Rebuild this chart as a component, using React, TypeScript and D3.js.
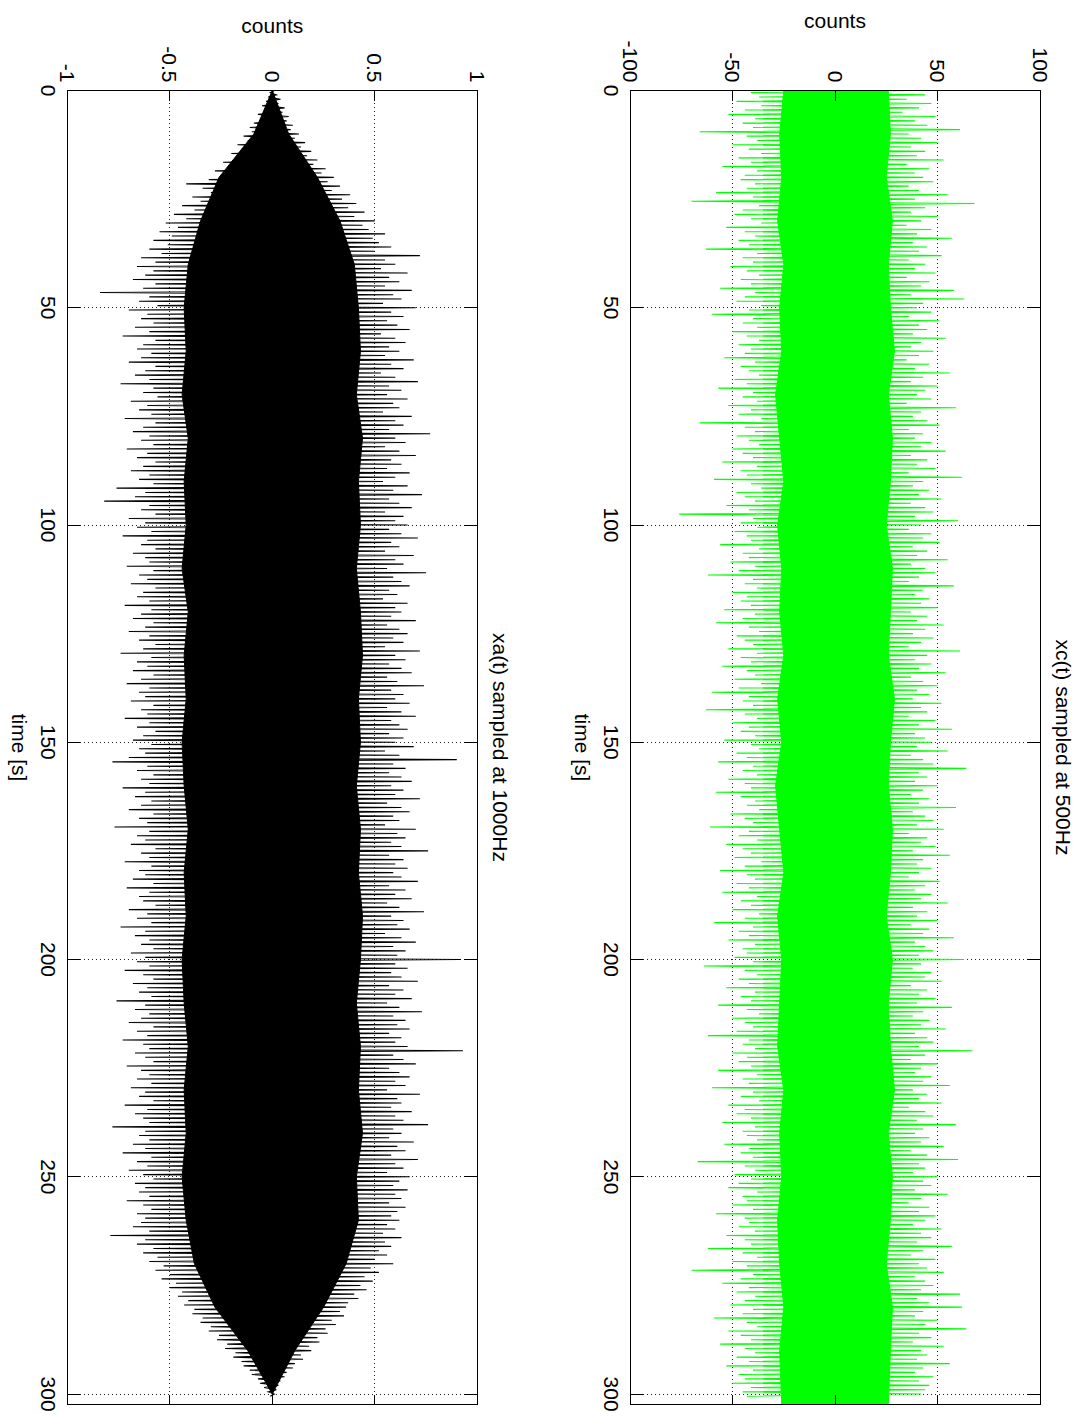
import React from 'react';
import * as d3 from 'd3';

// ---------- data ----------
const timeTicks = [0, 50, 100, 150, 200, 250, 300];
const xcTicks = [-100, -50, 0, 50, 100];
const xcTickLabels = ['-100', '-50', '0', '50', '100'];
const xaTicks = [-1, -0.5, 0, 0.5, 1];
const xaTickLabels = ['-1', '-0.5', '0', '0.5', '1'];

// peak values of xc(t), one pair per second (upper at t, lower at t+0.5)
const xcUpper = [
  38, 44, 35, 47, 41, 33, 49, 39, 45, 61, 36, 42, 50, 37, 44, 40, 53, 35, 46, 39,
  43, 48, 36, 41, 55, 39, 68, 44, 37, 50, 42, 35, 47, 40, 57, 38, 45, 41, 52, 36,
  44, 39, 49, 35, 46, 42, 58, 37, 63, 43, 40, 47, 36, 51, 41, 45, 38, 54, 42, 37,
  48, 41, 35, 46, 39, 56, 43, 37, 50, 44, 40, 47, 35, 59, 42, 38, 45, 51, 36, 43,
  39, 47, 42, 54, 37, 45, 40, 49, 36, 62, 43, 38, 46, 41, 52, 37, 44, 48, 39, 60,
  42, 36, 47, 43, 51, 38, 45, 40, 55, 37, 44, 49, 41, 36, 58, 43, 39, 46, 42, 50,
  37, 45, 40, 53, 44, 38, 48, 42, 36, 61, 45, 39, 47, 41, 54, 37, 43, 50, 40, 46,
  38, 52, 42, 45, 36, 49, 41, 57, 39, 44, 47, 40, 55, 37, 43, 48, 64, 41, 45, 39,
  50, 43, 37, 46, 41, 59, 38, 44, 48, 40, 53, 36, 45, 42, 49, 38, 56, 43, 40, 47,
  41, 36, 51, 44, 39, 47, 42, 55, 38, 45, 40, 50, 37, 46, 43, 58, 39, 44, 48, 41,
  63, 42, 38, 47, 44, 52, 37, 45, 41, 49, 40, 57, 43, 38, 46, 42, 54, 39, 45, 48,
  41, 67, 44, 37, 50, 42, 39, 47, 43, 56, 38, 45, 41, 52, 36, 44, 48, 40, 59, 43,
  39, 46, 42, 53, 37, 45, 60, 41, 44, 38, 50, 43, 47, 39, 55, 42, 36, 46, 41, 49,
  44, 38, 52, 42, 47, 40, 57, 43, 37, 49, 41, 45, 53, 39, 44, 48, 42, 61, 40, 46,
  62, 43, 39, 50, 44, 64, 41, 47, 38, 53, 42, 45, 40, 56, 43, 39, 48, 41, 46, 44,
  42,
];
const xcLower = [
  -41, -37, -48, -36, -44, -52, -39, -45, -40, -66, -43, -38, -50, -42, -36, -47, -41, -55, -38, -44,
  -46, -39, -43, -58, -40, -70, -37, -45, -49, -41, -36, -53, -44, -39, -47, -42, -63, -38, -45, -40,
  -51, -43, -37, -46, -41, -56, -39, -44, -48, -36, -42, -60, -40, -45, -38, -50, -43, -37, -47, -41,
  -44, -54, -39, -46, -42, -37, -49, -43, -57, -40, -45, -38, -52, -41, -47, -36, -66, -44, -39, -48,
  -42, -37, -50, -45, -40, -55, -38, -46, -43, -59, -41, -36, -48, -44, -39, -53, -42, -76, -40, -46,
  -38, -49, -43, -41, -56, -37, -45, -42, -51, -39, -47, -62, -40, -44, -38, -50, -43, -46, -41, -54,
  -39, -45, -58, -42, -37, -48, -44, -40, -52, -38, -46, -41, -55, -43, -39, -49, -36, -47, -60, -42,
  -45, -40, -63, -44, -38, -50, -42, -46, -39, -54, -41, -37, -48, -43, -57, -40, -45, -38, -52, -44,
  -41, -58, -46, -39, -43, -37, -51, -44, -40, -61, -42, -47, -38, -53, -45, -41, -49, -36, -44, -56,
  -43, -39, -48, -42, -55, -38, -46, -41, -50, -37, -44, -59, -40, -47, -42, -52, -39, -45, -43, -49,
  -40, -64, -44, -38, -47, -42, -53, -39, -46, -41, -57, -43, -37, -50, -44, -40, -48, -62, -42, -45,
  -39, -50, -43, -47, -41, -57, -38, -45, -42, -60, -40, -46, -37, -52, -44, -48, -41, -55, -39, -45,
  -43, -38, -54, -42, -46, -40, -67, -44, -39, -49, -41, -47, -52, -38, -45, -43, -50, -40, -58, -44,
  -42, -47, -39, -53, -44, -41, -62, -45, -38, -50, -43, -70, -40, -46, -55, -42, -48, -39, -44, -51,
  -40, -45, -59, -43, -38, -52, -46, -41, -56, -44, -39, -48, -42, -53, -40, -47, -44, -50, -41, -45,
  -43,
];
// dense core of xc(t), every 10 s
const xcCoreHi = [26, 27, 25, 28, 26, 27, 29, 26, 28, 27, 25, 28, 27, 26, 29, 27, 26, 28, 27, 25, 28, 26, 27, 29, 26, 28, 27, 25, 28, 27, 26];
const xcCoreLo = [-25, -27, -26, -28, -25, -27, -26, -29, -27, -25, -28, -26, -27, -25, -28, -26, -29, -27, -25, -28, -26, -27, -28, -25, -27, -26, -28, -27, -25, -27, -26];

// peak values of xa(t), one pair per second
const xaUpper = [
  0.01, 0.02, 0.04, 0.03, 0.06, 0.05, 0.08, 0.07, 0.1, 0.09, 0.13, 0.11, 0.16, 0.14, 0.19, 0.17, 0.22, 0.2, 0.26, 0.24,
  0.3, 0.27, 0.33, 0.29, 0.38, 0.34, 0.41, 0.37, 0.45, 0.4, 0.5, 0.44, 0.47, 0.55, 0.49, 0.52, 0.58, 0.5, 0.72, 0.55,
  0.6, 0.53, 0.66, 0.57, 0.62, 0.55, 0.68, 0.59, 0.63, 0.54, 0.7, 0.58, 0.64, 0.56, 0.61, 0.67, 0.53, 0.6, 0.65, 0.57,
  0.62, 0.55, 0.69, 0.58, 0.64, 0.53, 0.6, 0.71, 0.57, 0.63, 0.56, 0.66, 0.59, 0.62, 0.54, 0.68, 0.6, 0.64, 0.57, 0.77,
  0.6, 0.65, 0.55, 0.62, 0.7, 0.58, 0.63, 0.56, 0.67, 0.6, 0.54, 0.66, 0.59, 0.73, 0.57, 0.62, 0.68, 0.55, 0.64, 0.6,
  0.66, 0.57, 0.63, 0.71, 0.58, 0.62, 0.55, 0.69, 0.6, 0.64, 0.56, 0.75, 0.59, 0.63, 0.67, 0.57, 0.61, 0.54, 0.66, 0.6,
  0.63, 0.58, 0.7, 0.56, 0.62, 0.66, 0.59, 0.64, 0.55, 0.72, 0.6, 0.65, 0.57, 0.63, 0.68, 0.56, 0.61, 0.74, 0.58, 0.64,
  0.6, 0.67, 0.56, 0.63, 0.7, 0.58, 0.62, 0.66, 0.57, 0.64, 0.6, 0.69, 0.55, 0.62, 0.9, 0.59, 0.65, 0.57, 0.63, 0.68,
  0.58, 0.64, 0.6, 0.72, 0.56, 0.63, 0.67, 0.59, 0.62, 0.55, 0.7, 0.61, 0.65, 0.58, 0.63, 0.76, 0.57, 0.64, 0.6, 0.66,
  0.59, 0.63, 0.71, 0.57, 0.65, 0.6, 0.68, 0.56, 0.62, 0.74, 0.58, 0.64, 0.61, 0.67, 0.55, 0.63, 0.7, 0.59, 0.65, 0.61,
  0.92, 0.6, 0.66, 0.58, 0.63, 0.71, 0.57, 0.64, 0.6, 0.68, 0.56, 0.62, 0.73, 0.59, 0.65, 0.61, 0.67, 0.57, 0.63, 0.6,
  0.66, 0.93, 0.59, 0.64, 0.7, 0.57, 0.62, 0.67, 0.6, 0.65, 0.56, 0.72, 0.61, 0.63, 0.58, 0.68, 0.6, 0.64, 0.76, 0.59,
  0.63, 0.57, 0.69, 0.61, 0.65, 0.58, 0.71, 0.6, 0.64, 0.56, 0.67, 0.62, 0.59, 0.66, 0.6, 0.63, 0.57, 0.65, 0.61, 0.58,
  0.62, 0.56, 0.6, 0.54, 0.63, 0.55, 0.58, 0.52, 0.56, 0.5, 0.59, 0.48, 0.52, 0.45, 0.49, 0.43, 0.46, 0.4, 0.42, 0.37,
  0.36, 0.33, 0.35, 0.29, 0.31, 0.26, 0.27, 0.22, 0.23, 0.18, 0.19, 0.14, 0.15, 0.11, 0.1, 0.07, 0.06, 0.04, 0.03, 0.02,
  0.01,
];
const xaLower = [
  -0.01, -0.02, -0.03, -0.05, -0.04, -0.07, -0.06, -0.09, -0.11, -0.1, -0.14, -0.12, -0.17, -0.15, -0.2, -0.18, -0.24, -0.21, -0.28, -0.25,
  -0.31, -0.42, -0.34, -0.3, -0.39, -0.35, -0.44, -0.38, -0.48, -0.42, -0.52, -0.46, -0.55, -0.49, -0.58, -0.51, -0.6, -0.54, -0.64, -0.57,
  -0.66, -0.58, -0.62, -0.68, -0.57, -0.63, -0.84, -0.6, -0.65, -0.56, -0.7, -0.61, -0.64, -0.58, -0.67, -0.6, -0.73, -0.57, -0.63, -0.66,
  -0.59, -0.64, -0.7, -0.57, -0.62, -0.67, -0.6, -0.74, -0.58, -0.63, -0.56, -0.69, -0.61, -0.65, -0.59, -0.72, -0.57, -0.63, -0.68, -0.6,
  -0.64, -0.58, -0.71, -0.61, -0.66, -0.57, -0.63, -0.69, -0.6, -0.65, -0.58, -0.76, -0.62, -0.67, -0.82, -0.6, -0.64, -0.57, -0.7, -0.62,
  -0.66, -0.59, -0.73, -0.61, -0.64, -0.57, -0.68, -0.62, -0.6, -0.71, -0.58, -0.65, -0.61, -0.69, -0.57, -0.63, -0.66, -0.6, -0.72, -0.59,
  -0.64, -0.68, -0.58, -0.62, -0.7, -0.6, -0.65, -0.57, -0.63, -0.74, -0.59, -0.66, -0.61, -0.68, -0.58, -0.64, -0.71, -0.6, -0.65, -0.62,
  -0.69, -0.58, -0.64, -0.61, -0.72, -0.6, -0.66, -0.57, -0.63, -0.68, -0.59, -0.65, -0.62, -0.7, -0.78, -0.61, -0.66, -0.58, -0.64, -0.6,
  -0.73, -0.62, -0.67, -0.59, -0.64, -0.7, -0.58, -0.65, -0.61, -0.77, -0.6, -0.66, -0.62, -0.69, -0.57, -0.64, -0.6, -0.72, -0.59, -0.65,
  -0.62, -0.68, -0.58, -0.71, -0.6, -0.65, -0.63, -0.57, -0.7, -0.61, -0.66, -0.59, -0.74, -0.62, -0.67, -0.6, -0.64, -0.58, -0.69, -0.62,
  -0.66, -0.6, -0.72, -0.63, -0.58, -0.68, -0.61, -0.65, -0.59, -0.76, -0.62, -0.67, -0.6, -0.64, -0.7, -0.58, -0.66, -0.61, -0.73, -0.63,
  -0.6, -0.67, -0.62, -0.58, -0.71, -0.64, -0.6, -0.66, -0.59, -0.69, -0.62, -0.65, -0.58, -0.72, -0.61, -0.67, -0.63, -0.6, -0.78, -0.62,
  -0.65, -0.6, -0.68, -0.62, -0.73, -0.59, -0.66, -0.61, -0.7, -0.63, -0.58, -0.67, -0.62, -0.65, -0.6, -0.71, -0.63, -0.59, -0.66, -0.62,
  -0.64, -0.68, -0.6, -0.79, -0.62, -0.66, -0.58, -0.63, -0.56, -0.6, -0.53, -0.57, -0.5, -0.54, -0.47, -0.5, -0.44, -0.46, -0.41, -0.43,
  -0.38, -0.39, -0.34, -0.35, -0.3, -0.31, -0.26, -0.27, -0.22, -0.23, -0.18, -0.19, -0.15, -0.14, -0.11, -0.1, -0.07, -0.06, -0.04, -0.02,
  -0.01,
];
const xaCoreHi = [0, 0.08, 0.22, 0.33, 0.4, 0.42, 0.43, 0.41, 0.44, 0.42, 0.43, 0.41, 0.43, 0.44, 0.42, 0.43, 0.41, 0.43, 0.42, 0.44, 0.43, 0.41, 0.43, 0.42, 0.44, 0.41, 0.42, 0.36, 0.25, 0.11, 0];
const xaCoreLo = [0, -0.09, -0.26, -0.35, -0.41, -0.43, -0.42, -0.44, -0.41, -0.43, -0.42, -0.44, -0.41, -0.43, -0.42, -0.44, -0.43, -0.41, -0.43, -0.42, -0.44, -0.43, -0.41, -0.43, -0.42, -0.44, -0.42, -0.38, -0.28, -0.12, 0];

const T_MAX = 302.4;
const coreTimes = [0, 10, 20, 30, 40, 50, 60, 70, 80, 90, 100, 110, 120, 130, 140, 150, 160, 170, 180, 190, 200, 210, 220, 230, 240, 250, 260, 270, 280, 290, 300];

// ---------- layout (landscape coordinates, rotated afterwards) ----------
const W = 1078;
const H = 1417;
const X0 = 90.5;
const X1 = 1404.5;
const FONT = 'Liberation Sans, Arial, Helvetica, sans-serif';

type PanelProps = {
  id: string;
  top: number;
  bottom: number;
  domain: [number, number];
  ticks: number[];
  tickLabels: string[];
  upper: number[];
  lower: number[];
  coreHi: number[];
  coreLo: number[];
  color: string;
  title: string;
  ylabelX: number;
  coreEnd: number;
};

function Panel(p: PanelProps) {
  const x = d3.scaleLinear().domain([0, T_MAX]).range([X0, X1]);
  const y = d3.scaleLinear().domain(p.domain).range([p.bottom, p.top]);
  const pts: [number, number][] = [];
  p.upper.forEach((v, i) => {
    pts.push([i, v]);
    if (i < p.lower.length) pts.push([i + 0.5, p.lower[i]]);
  });
  const line = d3.line<[number, number]>().x((d) => x(d[0])).y((d) => y(d[1]));
  const ct = coreTimes.map((t, i) => (i === coreTimes.length - 1 ? p.coreEnd : t));
  const area = d3
    .area<number>()
    .x((_, i) => x(ct[i]))
    .y0((_, i) => y(p.coreLo[i]))
    .y1((d) => y(d));
  const midX = (X0 + X1) / 2;
  const midY = (p.top + p.bottom) / 2;
  const gridT = timeTicks.filter((t) => t > 0);
  const gridV = p.ticks.slice(1, -1);
  return (
    <g>
      <defs>
        <clipPath id={p.id}>
          <rect x={X0} y={p.top} width={X1 - X0} height={p.bottom - p.top} />
        </clipPath>
      </defs>
      <rect x={X0} y={p.top} width={X1 - X0} height={p.bottom - p.top} fill="#fff" />
      {gridT.map((t) => (
        <line key={'gt' + t} x1={x(t)} x2={x(t)} y1={p.top} y2={p.bottom} stroke="#222" strokeWidth={1} strokeDasharray="1,3" shapeRendering="crispEdges" />
      ))}
      {gridV.map((v) => (
        <line key={'gv' + v} x1={X0} x2={X1} y1={y(v)} y2={y(v)} stroke="#222" strokeWidth={1} strokeDasharray="1,3" shapeRendering="crispEdges" />
      ))}
      <g clipPath={`url(#${p.id})`}>
        <path d={area(p.coreHi) || ''} fill={p.color} stroke={p.color} strokeWidth={1} />
        <path d={line(pts) || ''} fill="none" stroke={p.color} strokeWidth={1.1} />
      </g>
      <rect x={X0} y={p.top} width={X1 - X0} height={p.bottom - p.top} fill="none" stroke="#000" strokeWidth={1} shapeRendering="crispEdges" />
      {timeTicks.map((t) => (
        <g key={'tt' + t}>
          <line x1={x(t)} x2={x(t)} y1={p.bottom} y2={p.bottom - 13} stroke="#000" shapeRendering="crispEdges" />
          <line x1={x(t)} x2={x(t)} y1={p.top} y2={p.top + 13} stroke="#000" shapeRendering="crispEdges" />
          <text x={x(t)} y={p.bottom + 26} textAnchor="middle" fontFamily={FONT} fontSize={21}>
            {t}
          </text>
        </g>
      ))}
      {p.ticks.map((v, i) => (
        <g key={'vt' + v}>
          <line x1={X0} x2={X0 + 10} y1={y(v)} y2={y(v)} stroke="#000" shapeRendering="crispEdges" />
          <line x1={X1} x2={X1 - 10} y1={y(v)} y2={y(v)} stroke="#000" shapeRendering="crispEdges" />
          <text x={X0 - 8} y={y(v) + 7.5} textAnchor="end" fontFamily={FONT} fontSize={21}>
            {p.tickLabels[i]}
          </text>
        </g>
      ))}
      <text x={midX} y={p.top - 16} textAnchor="middle" fontFamily={FONT} fontSize={21}>
        {p.title}
      </text>
      <text x={midX} y={p.bottom + 55} textAnchor="middle" fontFamily={FONT} fontSize={21}>
        time [s]
      </text>
      <text transform={`translate(${p.ylabelX},${midY}) rotate(-90)`} textAnchor="middle" fontFamily={FONT} fontSize={21}>
        counts
      </text>
    </g>
  );
}

export default function App() {
  return (
    <svg
      width={W}
      height={H}
      viewBox={`0 0 ${W} ${H}`}
      style={{ position: 'absolute', left: 0, top: 0, background: '#fff' }}
    >
      <rect x={0} y={0} width={W} height={H} fill="#fff" />
      <g transform={`translate(${W},0) rotate(90)`}>
        <Panel
          id="clipXc"
          top={38}
          bottom={448}
          domain={[-100, 100]}
          ticks={xcTicks}
          tickLabels={xcTickLabels}
          upper={xcUpper}
          lower={xcLower}
          coreHi={xcCoreHi}
          coreLo={xcCoreLo}
          color="#00ff00"
          title="xc(t) sampled at 500Hz"
          ylabelX={28}
          coreEnd={T_MAX}
        />
        <Panel
          id="clipXa"
          top={600.7}
          bottom={1010.7}
          domain={[-1, 1]}
          ticks={xaTicks}
          tickLabels={xaTickLabels}
          upper={xaUpper}
          lower={xaLower}
          coreHi={xaCoreHi}
          coreLo={xaCoreLo}
          color="#000000"
          title="xa(t) sampled at 1000Hz"
          ylabelX={33}
          coreEnd={300}
        />
      </g>
    </svg>
  );
}
